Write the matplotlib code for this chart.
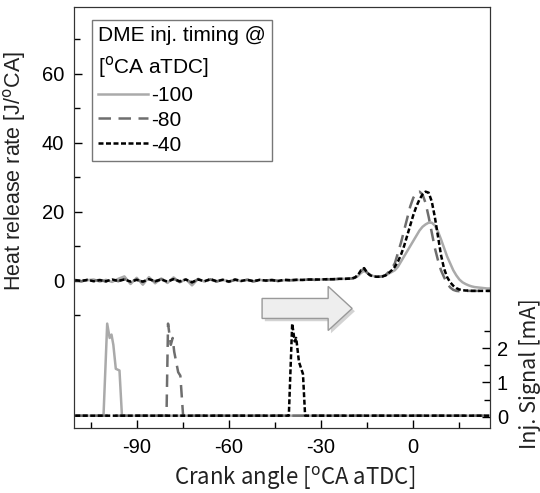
import numpy as np
import matplotlib
matplotlib.use("Agg")
import matplotlib.pyplot as plt
from matplotlib.patches import FancyArrow
import matplotlib.patheffects as pe

# ---------------- data ----------------
labels = ["-100", "-80", "-40"]
colors = ["#aaaaaa", "#6e6e6e", "#000000"]

# heat release rate sampling positions (crank angle, deg)
hrr_x = np.concatenate([np.arange(-110, -20, 2), np.arange(-20, 26, 1)])

hrr_100 = [0.2, -0.2, 0.1, 0.3, -0.3, 0.2, -0.4, 0.5, 1.2, -1.0, 0.8, -1.2, 1.0, -0.8, 0.6,
           -0.7, 0.9, -0.5, 0.4, -1.4, 0.5, -0.3, 0.4, -0.2, 0.3, -0.4, 0.2, -0.2, 0.3, -0.3,
           0.2, -0.1, 0.2, -0.2, 0.1, 0.0, 0.2, 0.1, 0.3, 0.2, 0.3, 0.4, 0.3, 0.5, 0.5,
           # -20 .. 25
           0.6, 0.8, 1.3, 2.2, 2.8, 2.2, 1.6, 1.3, 1.2, 1.2, 1.3, 1.5, 2.0, 2.5, 3.0,
           4.0, 5.5, 7.0, 8.5, 10.0, 11.5, 13.0, 14.5, 15.6, 16.3, 16.8, 16.8, 16.0, 14.3, 12.0,
           9.5, 7.0, 5.0, 3.0, 1.5, 0.3, -0.5, -1.0, -1.4, -1.7, -1.9, -2.0, -2.1, -2.2, -2.3,
           -2.3]
hrr_80 = [0.1, -0.2, 0.2, -0.1, 0.2, -0.3, 0.3, -0.2, 0.4, -0.3, 0.3, -0.4, 0.3, -0.2, 0.4,
          -0.3, 0.5, -0.4, 0.3, -0.6, 0.4, -0.2, 0.3, -0.3, 0.2, -0.3, 0.2, -0.1, 0.2, -0.2,
          0.1, 0.0, 0.2, -0.1, 0.2, 0.1, 0.2, 0.2, 0.3, 0.2, 0.4, 0.3, 0.4, 0.5, 0.5,
          # -20 .. 25
          0.6, 0.8, 1.5, 2.8, 3.5, 2.3, 1.6, 1.3, 1.1, 1.1, 1.2, 1.6, 2.5, 3.5, 5.0,
          8.0, 11.0, 14.5, 18.0, 21.5, 24.0, 25.5, 25.8, 25.0, 22.5, 18.5, 14.0, 9.5, 6.0, 3.0,
          1.0, -0.8, -2.0, -2.7, -3.0, -3.1, -3.1, -3.0, -3.0, -3.0, -3.0, -3.0, -3.0, -3.0, -3.0,
          -3.0]
hrr_40 = [0.1, -0.1, 0.2, -0.2, 0.1, -0.2, 0.3, -0.1, 0.3, -0.3, 0.2, -0.3, 0.4, -0.2, 0.3,
          -0.3, 0.4, -0.2, 0.3, -0.5, 0.3, -0.2, 0.4, -0.2, 0.2, -0.3, 0.3, -0.1, 0.2, -0.2,
          0.2, 0.0, 0.1, -0.1, 0.2, 0.1, 0.2, 0.2, 0.3, 0.3, 0.3, 0.4, 0.4, 0.5, 0.5,
          # -20 .. 25
          0.6, 0.9, 1.6, 3.0, 3.6, 2.2, 1.5, 1.2, 1.1, 1.1, 1.2, 1.5, 2.2, 3.0, 4.0,
          5.5, 7.5, 10.0, 13.0, 16.0, 19.0, 21.5, 23.5, 25.0, 25.8, 25.5, 23.0, 18.5, 13.0, 7.5,
          3.5, 1.0, -0.5, -1.5, -2.2, -2.6, -2.8, -2.9, -2.9, -3.0, -3.0, -3.0, -3.0, -3.0, -3.0,
          -3.0]

# injection signal [mA]
inj_100_x = [-110, -100.8, -99.6, -98.8, -98.2, -97.6, -96.8, -95.6, -94.8, 25]
inj_100_y = [0.03, 0.03, 2.72, 2.3, 2.4, 2.1, 1.4, 1.35, 0.03, 0.03]
inj_80_x = [-110, -80.3, -79.8, -78.9, -78.3, -77.8, -76.5, -75.8, -74.9, 25]
inj_80_y = [0.03, 0.03, 2.72, 2.1, 2.3, 1.9, 1.3, 1.2, 0.03, 0.03]
inj_40_x = [-110, -40.5, -39.4, -38.6, -38.1, -37.2, -35.9, -35.2, 25]
inj_40_y = [0.03, 0.03, 2.72, 2.2, 2.3, 1.6, 1.25, 0.03, 0.03]

x_major = [-90, -60, -30, 0]
x_minor = [-105, -75, -45, -15, 15]
hrr_major = [0, 20, 40, 60]
hrr_minor = [-10, 10, 30, 50, 70]
inj_major = [0, 1, 2]
inj_minor = [0.5, 1.5, 2.5]

# ---------------- figure ----------------
plt.rcParams['font.family'] = ['Liberation Sans', 'DejaVu Sans']
plt.rcParams['axes.unicode_minus'] = False
fig = plt.figure(figsize=(5.40, 4.93), dpi=100)
ax = fig.add_axes([74 / 540, 1 - 428 / 493, (490 - 74) / 540, (428 - 7) / 493])
ax2 = ax.twinx()

styles = [dict(ls='-'), dict(ls=(0, (5, 3))), dict(ls=(0, (2, 1)))]
hrr_all = [hrr_100, hrr_80, hrr_40]
inj_all = [(inj_100_x, inj_100_y), (inj_80_x, inj_80_y), (inj_40_x, inj_40_y)]

handles = []
for lab, c, st, hy, (ix, iy) in zip(labels, colors, styles, hrr_all, inj_all):
    h, = ax.plot(hrr_x, hy, color=c, lw=1.8, label=lab, **st)
    ax2.plot(ix, iy, color=c, lw=1.8, **st)
    handles.append(h)

ax.set_xlim(-110.4, 24.96)
ax.set_ylim(-42.8, 79.4)
ax2.set_ylim(-0.33, 11.97)

ax.set_xticks(x_major)
ax.set_xticks(x_minor, minor=True)
ax.set_yticks(hrr_major)
ax.set_yticks(hrr_minor, minor=True)
ax2.set_yticks(inj_major)
ax2.set_yticks(inj_minor, minor=True)

for a in (ax, ax2):
    a.tick_params(which='major', direction='in', length=6, width=1, labelsize=14.5)
    a.tick_params(which='minor', direction='in', length=4, width=1)
ax.tick_params(axis='x', pad=7)
ax.tick_params(axis='y', pad=7)
ax2.tick_params(axis='y', pad=5)
for a in (ax, ax2):
    for s in a.spines.values():
        s.set_color('#333333')

ax.set_xlabel("Crank angle [$^{\\mathrm{o}}$CA aTDC]", fontsize=16,
              family=['Noto Sans CJK KR', 'DejaVu Sans'], color='#222222')
ax.xaxis.set_label_coords(0.53, -0.085)
ax.set_ylabel("Heat release rate [J/$^{\\mathrm{o}}$CA]", fontsize=15.5, color='#222222')
ax.yaxis.set_label_coords(-0.11, 0.61)
ax2.set_ylabel("Inj. Signal [mA]", fontsize=15.5,
               family=['Noto Sans CJK KR', 'DejaVu Sans'], color='#222222')
ax2.yaxis.set_label_coords(1.07, 0.13)

leg = ax.legend(handles=handles, labels=labels,
                title="DME inj. timing @\n[$^{\\mathrm{o}}$CA aTDC]",
                loc='upper left', bbox_to_anchor=(0.043, 0.969), borderaxespad=0,
                fontsize=15, title_fontsize=15, alignment='left',
                handlelength=2.4, handletextpad=0.15, labelspacing=0.28,
                borderpad=0.3, frameon=True, fancybox=False)
leg.get_title().set_linespacing(1.45)
leg.get_frame().set_edgecolor('#555555')
leg.get_frame().set_linewidth(1.0)

# block arrow (annotation)
arr = FancyArrow(-49.2, -8.1, 29.3, 0, width=5.8, head_width=12.8, head_length=7.8,
                 length_includes_head=True, facecolor='#eeeeee', edgecolor='#999999', lw=1.0,
                 path_effects=[pe.SimplePatchShadow(offset=(2, -2), shadow_rgbFace='#c8c8c8', alpha=0.8),
                               pe.Normal()])
ax.add_patch(arr)

fig.savefig("out.png", dpi=100)
